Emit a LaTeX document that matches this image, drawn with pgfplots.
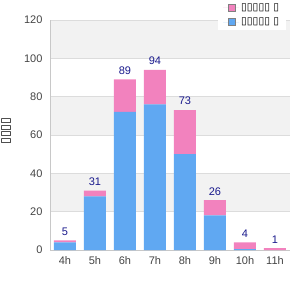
\documentclass[border=0pt]{standalone}
\usepackage{pgfplots}
\pgfplotsset{compat=1.18}
\usepackage{fontspec}
\setmainfont{Liberation Sans}
\newfontfamily\boxfont{DejaVu Sans}
\definecolor{barblue}{RGB}{96,168,242}
\definecolor{barpink}{RGB}{242,130,190}
\definecolor{band}{RGB}{242,242,242}
\definecolor{gridc}{RGB}{220,220,220}
\definecolor{axc}{RGB}{200,200,200}
\definecolor{labc}{RGB}{68,68,68}
\definecolor{navy}{RGB}{25,25,140}
\begin{document}
\begin{tikzpicture}
\useasboundingbox (0,0) rectangle (300bp,300bp);
% background bands (axis spans x 50..290bp, y 50..280bp; 120 units)
\fill[band] (50bp,241.667bp) rectangle (290bp,280bp);
\fill[band] (50bp,165bp) rectangle (290bp,203.333bp);
\fill[band] (50bp,88.333bp) rectangle (290bp,126.667bp);
\begin{axis}[
  at={(50bp,50bp)}, anchor=south west,
  width=240bp, height=230bp, scale only axis,
  xmin=-0.5, xmax=7.5, ymin=0, ymax=120,
  ybar stacked, bar width=22bp,
  xtick={0,...,7}, xticklabels={4h,5h,6h,7h,8h,9h,10h,11h},
  ytick={0,20,...,120},
  tick style={draw=none},
  axis x line*=bottom, axis y line*=left,
  axis line style={draw=axc, line width=0.8bp, -},
  ticklabel style={font=\fontsize{11bp}{13bp}\selectfont, text=labc},
  yticklabel style={xshift=-4bp},
  xticklabel style={yshift=-3bp},
  /pgf/number format/assume math mode=true,
  ymajorgrids, grid style={draw=gridc, line width=0.8bp},
  ylabel={\boxfont\fontsize{12.5bp}{13bp}\selectfont ▯▯▯▯},
  ylabel style={at={(axis description cs:-0.183,0.517)}, anchor=center},
  legend style={at={(axis description cs:0.7,1.087)}, anchor=north west, draw=none, fill=white,
     font=\boxfont\fontsize{10.5bp}{12bp}\selectfont, inner xsep=5bp, inner ysep=1.5bp,
     row sep=2bp, cells={anchor=west}},
  legend cell align=left,
  reverse legend,
  legend image code/.code={\path (0bp,0bp) -- (16bp,0bp); \draw[#1, draw=gray, line width=0.7bp] (5bp,-3.5bp) rectangle (12bp,3.5bp);},
  clip=false,
]
\addplot[fill=barblue, draw=none] coordinates {(0,4) (1,28) (2,72) (3,76) (4,50) (5,18) (6,0.5) (7,0)};
\addlegendentry{▯▯▯▯▯ ▯}
\addplot[fill=barpink, draw=none] coordinates {(0,1) (1,3) (2,17) (3,18) (4,23) (5,8) (6,3.5) (7,1)};
\addlegendentry{▯▯▯▯▯ ▯}
\addplot[draw=none, fill=none, forget plot,
  point meta=explicit, nodes near coords,
  nodes near coords style={font=\fontsize{11bp}{13bp}\selectfont, text=navy, anchor=south, yshift=1.5bp}]
  coordinates {(0,0.001) [5] (1,0.001) [31] (2,0.001) [89] (3,0.001) [94] (4,0.001) [73] (5,0.001) [26] (6,0.001) [4] (7,0.001) [1]};
\end{axis}
\end{tikzpicture}
\end{document}
